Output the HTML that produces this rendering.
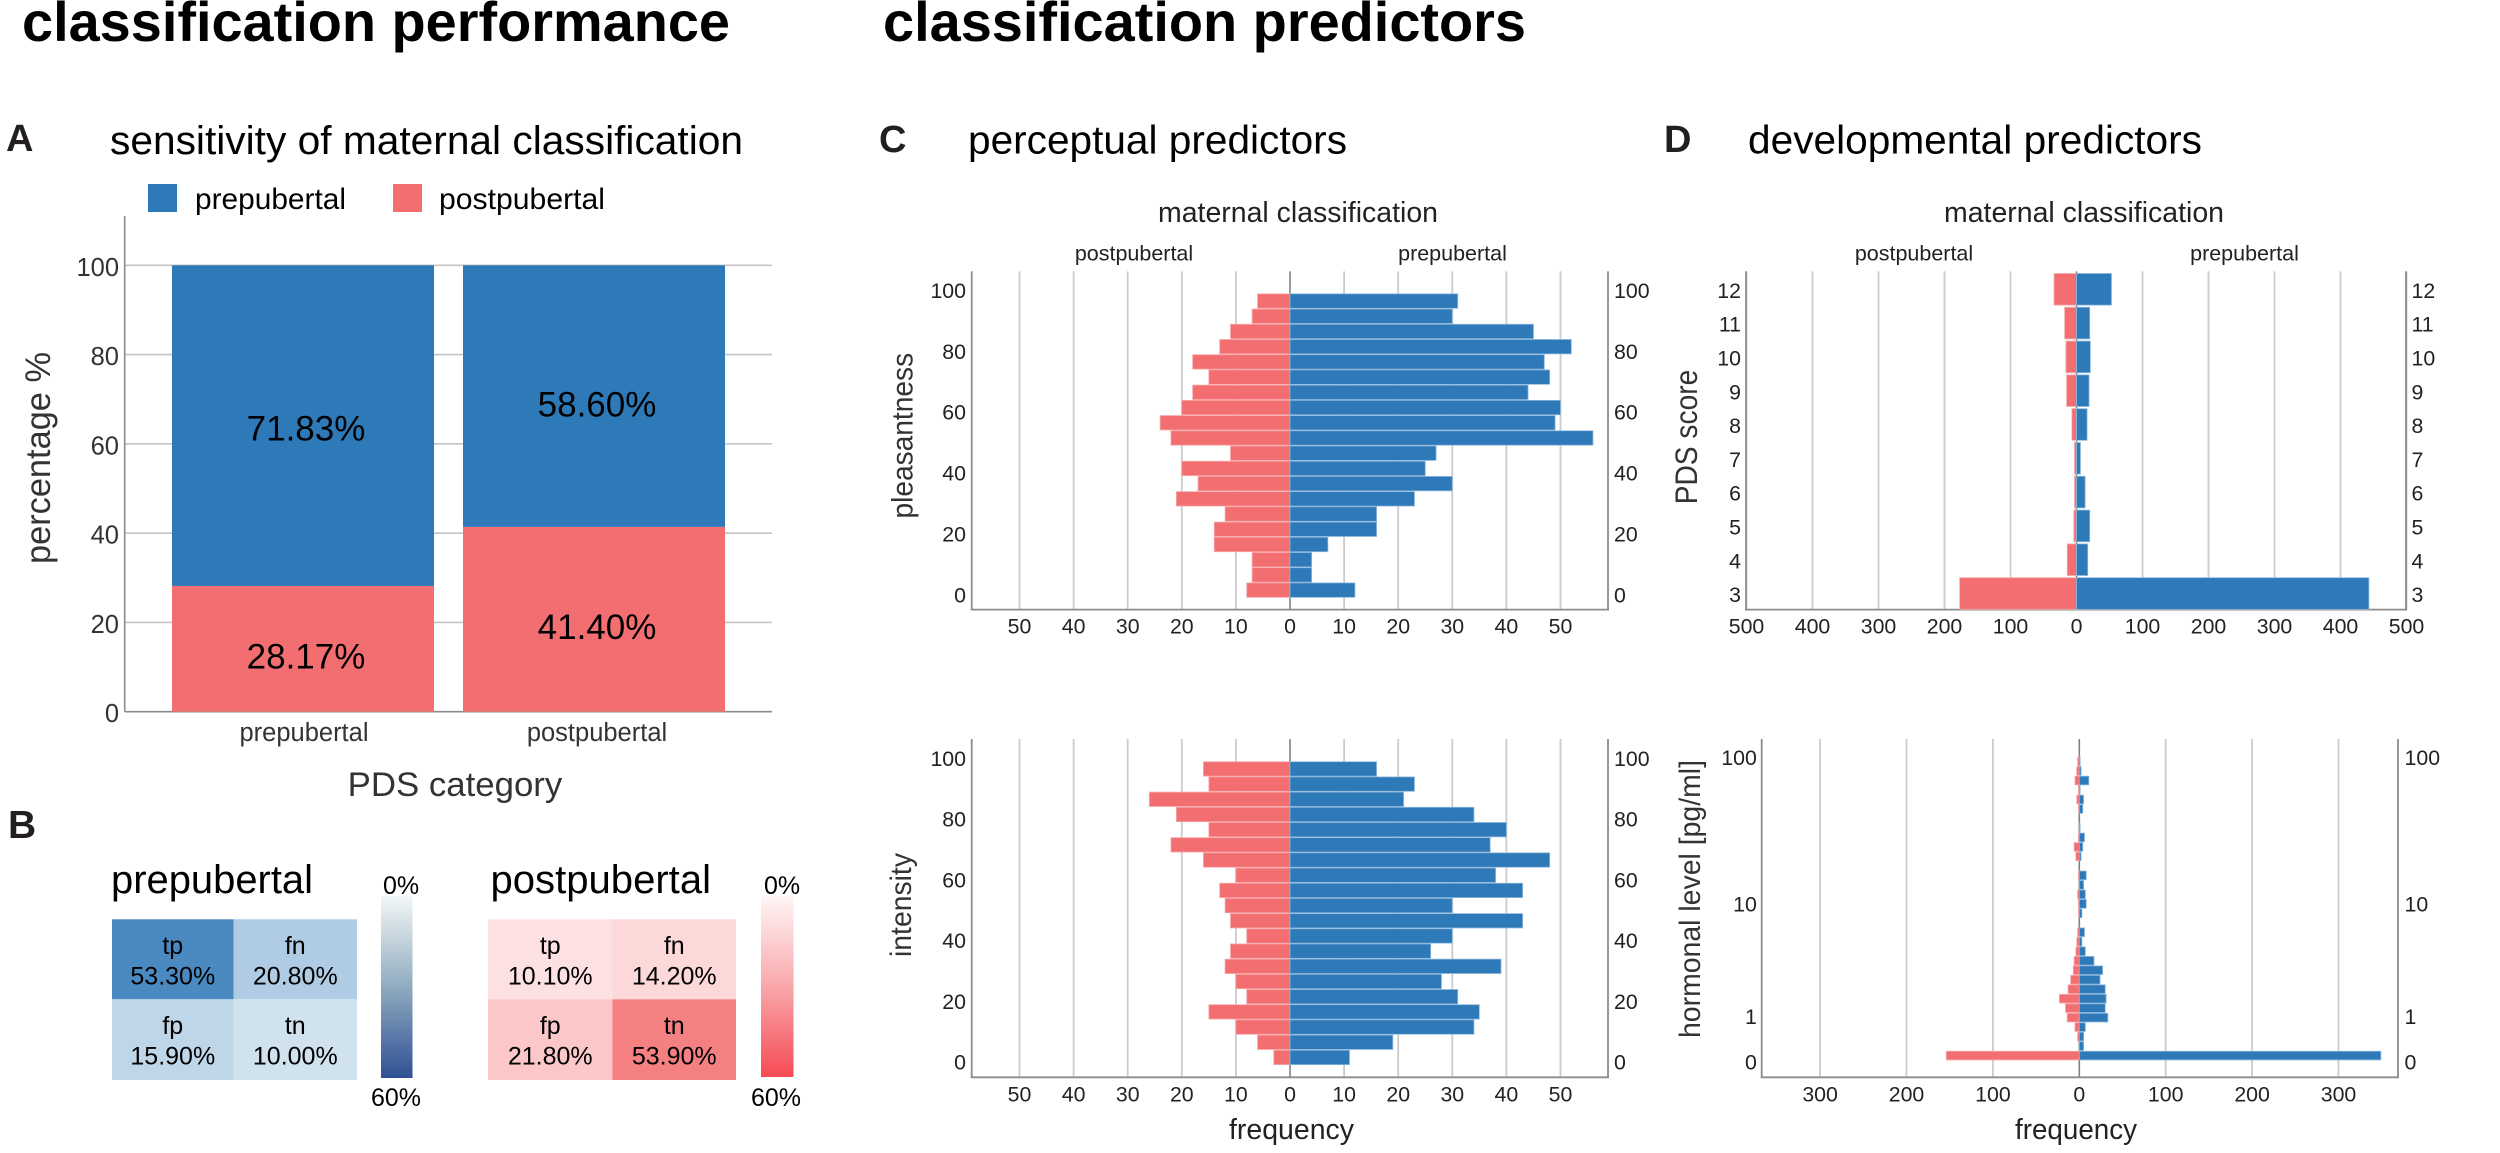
<!DOCTYPE html>
<html>
<head>
<meta charset="utf-8">
<title>classification performance and predictors</title>
<style>
html,body{margin:0;padding:0;background:#fff;}
svg{display:block;font-family:"Liberation Sans",Arial,sans-serif;}
</style>
</head>
<body>
<svg id="figure" xmlns="http://www.w3.org/2000/svg" width="2500" height="1153" viewBox="0 0 2500 1153">
<defs>
<linearGradient id="blue-scale" x1="0" y1="0" x2="0" y2="1"><stop offset="0" stop-color="#f2f7f8"/><stop offset="0.2" stop-color="#ccd9e0"/><stop offset="0.5" stop-color="#8fabc0"/><stop offset="0.8" stop-color="#5674a6"/><stop offset="1" stop-color="#2f5194"/></linearGradient>
<linearGradient id="red-scale" x1="0" y1="0" x2="0" y2="1"><stop offset="0" stop-color="#fff6f6"/><stop offset="0.5" stop-color="#f9a7ab"/><stop offset="1" stop-color="#f54b54"/></linearGradient>
</defs>
<rect width="2500" height="1153" fill="#fff"/>
<text x="22" y="41" font-size="56" font-weight="bold" textLength="708" lengthAdjust="spacingAndGlyphs">classification performance</text>
<text x="883" y="41" font-size="56" font-weight="bold" textLength="643" lengthAdjust="spacingAndGlyphs">classification predictors</text>
<text x="6" y="151" font-size="38" font-weight="bold" fill="#231f20">A</text>
<text x="8" y="838" font-size="39" font-weight="bold" fill="#231f20">B</text>
<text x="879" y="152" font-size="38" font-weight="bold" fill="#231f20">C</text>
<text x="1664" y="152" font-size="38" font-weight="bold" fill="#231f20">D</text>
<text x="110" y="154" font-size="40" textLength="633" lengthAdjust="spacingAndGlyphs">sensitivity of maternal classification</text>
<text x="968" y="153.6" font-size="40" textLength="379" lengthAdjust="spacingAndGlyphs">perceptual predictors</text>
<text x="1748" y="153.6" font-size="40" textLength="454" lengthAdjust="spacingAndGlyphs">developmental predictors</text>
<rect x="148" y="184" width="29" height="28" fill="#2e79b8"/>
<text x="195" y="209" font-size="29.5" textLength="151" lengthAdjust="spacingAndGlyphs">prepubertal</text>
<rect x="393" y="184" width="29" height="28" fill="#f36e70"/>
<text x="439" y="209" font-size="29.5" textLength="166" lengthAdjust="spacingAndGlyphs">postpubertal</text>
<text x="455" y="796" font-size="34" fill="#333" text-anchor="middle" textLength="214.6" lengthAdjust="spacingAndGlyphs">PDS category</text>
<text x="50" y="458" font-size="35" fill="#333" text-anchor="middle" transform="rotate(-90 50 458)" textLength="212" lengthAdjust="spacingAndGlyphs">percentage %</text>
<text x="111" y="893" font-size="39.5" textLength="202" lengthAdjust="spacingAndGlyphs">prepubertal</text>
<text x="490.5" y="893" font-size="39.5" textLength="220.5" lengthAdjust="spacingAndGlyphs">postpubertal</text>
<rect x="381" y="896" width="31.5" height="182" fill="url(#blue-scale)"/>
<rect x="761" y="896" width="32.5" height="181" fill="url(#red-scale)"/>
<text x="383" y="894" font-size="25">0%</text>
<text x="371" y="1106" font-size="25">60%</text>
<text x="764" y="894" font-size="25">0%</text>
<text x="751" y="1106" font-size="25">60%</text>
<text x="1298" y="222" font-size="28.5" text-anchor="middle" fill="#222" textLength="280" lengthAdjust="spacingAndGlyphs">maternal classification</text>
<text x="1134" y="260.7" font-size="21.5" text-anchor="middle" fill="#222">postpubertal</text>
<text x="1452.5" y="260.7" font-size="21.5" text-anchor="middle" fill="#222">prepubertal</text>
<text x="2084" y="222" font-size="28.5" text-anchor="middle" fill="#222" textLength="280" lengthAdjust="spacingAndGlyphs">maternal classification</text>
<text x="1914" y="260.7" font-size="21.5" text-anchor="middle" fill="#222">postpubertal</text>
<text x="2244.5" y="260.7" font-size="21.5" text-anchor="middle" fill="#222">prepubertal</text>
<text x="912.5" y="435.7" font-size="29.5" fill="#333" text-anchor="middle" transform="rotate(-90 912.5 435.7)" textLength="165.7" lengthAdjust="spacingAndGlyphs">pleasantness</text>
<text x="911" y="905" font-size="29.5" fill="#333" text-anchor="middle" transform="rotate(-90 911 905)" textLength="104" lengthAdjust="spacingAndGlyphs">intensity</text>
<text x="1697" y="437" font-size="31.5" fill="#333" text-anchor="middle" transform="rotate(-90 1697 437)" textLength="134.6" lengthAdjust="spacingAndGlyphs">PDS score</text>
<text x="1700" y="899" font-size="30" fill="#333" text-anchor="middle" transform="rotate(-90 1700 899)" textLength="278" lengthAdjust="spacingAndGlyphs">hormonal level [pg/ml]</text>
<text x="1291.5" y="1139" font-size="28.5" fill="#222" text-anchor="middle" textLength="125" lengthAdjust="spacingAndGlyphs">frequency</text>
<text x="2076" y="1139" font-size="28.5" fill="#222" text-anchor="middle" textLength="122" lengthAdjust="spacingAndGlyphs">frequency</text>
<g id="marks"></g>
</svg>
<script>
// Panel A
const stackCategories = ['prepubertal', 'postpubertal'];
const stackPrepubertal = [71.83, 58.60];
const stackPostpubertal = [28.17, 41.40];
const stackTicks = [0, 20, 40, 60, 80, 100];

// Panel B
const heatmapLabels = ['tp', 'fn', 'fp', 'tn'];
const heatmapPrepubertal = [53.30, 20.80, 15.90, 10.00];
const heatmapPostpubertal = [10.10, 14.20, 21.80, 53.90];

// Panel C (bins bottom to top)
const perceptualTicks = [0, 20, 40, 60, 80, 100];
const frequencyTicksC = [50, 40, 30, 20, 10, 0, 10, 20, 30, 40, 50];
const frequencySignsC = [-1, -1, -1, -1, -1, 1, 1, 1, 1, 1, 1];
const pleasantnessPost = [8, 7, 7, 14, 14, 12, 21, 17, 20, 11, 22, 24, 20, 18, 15, 18, 13, 11, 7, 6];
const pleasantnessPre = [12, 4, 4, 7, 16, 16, 23, 30, 25, 27, 56, 49, 50, 44, 48, 47, 52, 45, 30, 31];
const intensityPost = [3, 6, 10, 15, 8, 10, 12, 11, 8, 11, 12, 13, 10, 16, 22, 15, 21, 26, 15, 16];
const intensityPre = [11, 19, 34, 35, 31, 28, 39, 26, 30, 43, 30, 43, 38, 48, 37, 40, 34, 21, 23, 16];

// Panel D
const pdsScores = [3, 4, 5, 6, 7, 8, 9, 10, 11, 12];
const pdsPost = [177, 14, 4, 3, 3, 7, 15, 16, 18, 34];
const pdsPre = [443, 17, 20, 13, 6, 16, 19, 21, 20, 53];
const frequencyTicksPds = [500, 400, 300, 200, 100, 0, 100, 200, 300, 400, 500];
const frequencySignsPds = [-1, -1, -1, -1, -1, 1, 1, 1, 1, 1, 1];
const hormoneTicks = [0, 1, 10, 100];
const frequencyTicksHormone = [300, 200, 100, 0, 100, 200, 300];
const frequencySignsHormone = [-1, -1, -1, 1, 1, 1, 1];
const hormonePost = [154, 0, 2, 5, 14, 16, 23, 13, 10, 7, 6, 4, 3, 2, 0, 1, 1, 2, 0, 1, 0, 4, 6, 1, 0, 0, 1, 3, 1, 5, 3, 2];
const hormonePre = [349, 5, 5, 7, 33, 30, 31, 30, 24, 27, 17, 7, 3, 6, 0, 3, 8, 7, 5, 8, 0, 2, 4, 6, 1, 0, 4, 5, 1, 11, 2, 1];

const NS = 'http://www.w3.org/2000/svg';
const root = document.getElementById('marks');
const BLUE = '#2e79b8', RED = '#f36e70';

function shape(tag, props) {
  const el = document.createElementNS(NS, tag);
  for (const k in props) el.setAttribute(k, props[k]);
  root.appendChild(el);
  return el;
}
function label(str, props) {
  const el = shape('text', props);
  el.textContent = str;
  return el;
}
function mix(a, b, t) {
  return 'rgb(' + a.map((c, i) => Math.round(c + (b[i] - c) * t)).join(',') + ')';
}

/* ---------- Panel A: stacked bars ---------- */
const yA = v => 711.7 - 4.464 * v;
const xA = i => 172 + 291 * i;
const widthA = 262;

stackTicks.forEach(t => {
  const gl = shape('line', {x1: 124.7, x2: 772, y1: yA(t), y2: yA(t), stroke: t === 0 ? '#8c8c8c' : '#c4c4c4', 'stroke-width': 1.6});
  
  
  const tl = label(String(t), {x: 119, y: yA(t) + 10.5, 'font-size': 25.5, 'text-anchor': 'end', fill: '#333'});
  
  
});
const axisA = shape('line', {x1: 124.7, x2: 124.7, y1: 216, y2: 711.7, stroke: '#8c8c8c', 'stroke-width': 1.6});



stackCategories.forEach((cat, i) => {
  const post = stackPostpubertal[i], pre = stackPrepubertal[i];
  const rp = shape('rect', {x: xA(i), y: yA(post), width: widthA, height: yA(0) - yA(post), fill: RED});
  
  
  const rb = shape('rect', {x: xA(i), y: yA(post + pre), width: widthA, height: yA(post) - yA(post + pre), fill: BLUE});
  
  
  const lb = label(pre.toFixed(2) + '%', {x: xA(i) + widthA / 2 + 3, y: yA(post + pre / 2) + 15 + (post - 28.17) * 0.4, 'font-size': 35, 'text-anchor': 'middle', fill: '#000'});
  
  
  const lp = label(post.toFixed(2) + '%', {x: xA(i) + widthA / 2 + 3, y: yA(post / 2) + 19.5, 'font-size': 35, 'text-anchor': 'middle', fill: '#000'});
  
  
  const cl = label(cat, {x: xA(i) + widthA / 2 + (i ? 3 : 1), y: 741, 'font-size': 25.5, 'text-anchor': 'middle', fill: '#333'});
  
  
});

/* ---------- Panel B: heatmaps ---------- */
function heatmap(name, values, left, mid, right, low, high) {
  const tops = [919.3, 999.3], bottoms = [999.3, 1080];
  values.forEach((v, i) => {
    const col = i % 2, row = i < 2 ? 0 : 1;
    const x1 = col ? mid : left, x2 = col ? right : mid;
    const cell = shape('rect', {x: x1, y: tops[row], width: x2 - x1, height: bottoms[row] - tops[row], fill: mix(low, high, v / 60)});
    
    
    const cx = (x1 + x2) / 2;
    const t1 = label(heatmapLabels[i], {x: cx, y: tops[row] + 34.7, 'font-size': 25, 'text-anchor': 'middle', fill: '#000'});
    
    
    const t2 = label(v.toFixed(2) + '%', {x: cx, y: tops[row] + 65, 'font-size': 25, 'text-anchor': 'middle', fill: '#000'});
    
    
  });
}
heatmap('heatmap-prepubertal', heatmapPrepubertal, 112, 233.6, 357, [240, 247, 250], [54, 123, 186]);
heatmap('heatmap-postpubertal', heatmapPostpubertal, 488, 612.5, 736, [255, 247, 248], [243, 114, 117]);

/* ---------- Pyramid frame ---------- */
function frame(name, f, xTicks, xSigns) {
  xTicks.forEach((t, i) => {
    const x = f.x0 + xSigns[i] * t * f.unit;
    if (t !== 0) {
      const gl = shape('line', {x1: x, x2: x, y1: f.top, y2: f.bottom, stroke: '#cbcbcb', 'stroke-width': 1.8});
      
      
    }
    const tl = label(String(t), {x: x, y: f.bottom + 24, 'font-size': 21.3, 'text-anchor': 'middle', fill: '#222'});
    
    
  });
  const zl = shape('line', {x1: f.x0, x2: f.x0, y1: f.top, y2: f.bottom, stroke: '#808080', 'stroke-width': 1.6});
  
  
  const la = shape('line', {x1: f.left, x2: f.left, y1: f.top, y2: f.bottom, stroke: '#8c8c8c', 'stroke-width': 1.8});
  
  
  const ra = shape('line', {x1: f.right, x2: f.right, y1: f.top, y2: f.bottom, stroke: '#8c8c8c', 'stroke-width': 1.8});
  
  
  const ba = shape('line', {x1: f.left - 1, x2: f.right + 1, y1: f.bottom, y2: f.bottom, stroke: '#8c8c8c', 'stroke-width': 1.8});
  
  
}
function yTickLabels(name, f, ticks, yFn) {
  ticks.forEach(t => {
    const l = label(String(t), {x: f.labelLeft, y: yFn(t) + 7.6, 'font-size': 21.3, 'text-anchor': 'end', fill: '#222'});
    
    
    const r = label(String(t), {x: f.labelRight, y: yFn(t) + 7.6, 'font-size': 21.3, 'text-anchor': 'start', fill: '#222'});
    
    
  });
}
function bar(name, f, value, side, yTop, yBottom) {
  if (!value) return;
  const w = value * f.unit;
  const red = side < 0;
  const el = shape('rect', {
    x: red ? f.x0 - w : f.x0, y: yTop + 0.4, width: w, height: yBottom - yTop - 0.8,
    fill: red ? RED : BLUE, stroke: red ? '#f8a9ab' : '#8db8dc', 'stroke-width': 0.8
  });
  
  
}

/* ---------- Panel C ---------- */
const fPleasant = {x0: 1290, unit: 5.41, left: 971.7, right: 1608, top: 271.4, bottom: 609.6, labelLeft: 966, labelRight: 1614};
const fIntensity = {x0: 1290, unit: 5.41, left: 971.7, right: 1608, top: 739, bottom: 1077.3, labelLeft: 966, labelRight: 1614};
const yPleasant = v => 594.7 - 3.043 * v;
const yIntensity = v => 1062 - 3.037 * v;
const binWidth = 5, binStart = -1;

frame('pleasantness', fPleasant, frequencyTicksC, frequencySignsC);
yTickLabels('pleasantness', fPleasant, perceptualTicks, yPleasant);
pleasantnessPost.forEach((v, i) => {
  const lo = binStart + i * binWidth;
  bar('pleasantness-bar-postpubertal', fPleasant, v, -1, yPleasant(lo + binWidth), yPleasant(lo));
  bar('pleasantness-bar-prepubertal', fPleasant, pleasantnessPre[i], 1, yPleasant(lo + binWidth), yPleasant(lo));
});

frame('intensity', fIntensity, frequencyTicksC, frequencySignsC);
yTickLabels('intensity', fIntensity, perceptualTicks, yIntensity);
intensityPost.forEach((v, i) => {
  const lo = binStart + i * binWidth;
  bar('intensity-bar-postpubertal', fIntensity, v, -1, yIntensity(lo + binWidth), yIntensity(lo));
  bar('intensity-bar-prepubertal', fIntensity, intensityPre[i], 1, yIntensity(lo + binWidth), yIntensity(lo));
});

/* ---------- Panel D: PDS ---------- */
const fPds = {x0: 2076.5, unit: 0.66, left: 1746, right: 2406, top: 271.4, bottom: 609.6, labelLeft: 1741, labelRight: 2411.5};
const yPds = s => 593.5 - 33.8 * (s - 3);
frame('pds', fPds, frequencyTicksPds, frequencySignsPds);
yTickLabels('pds', fPds, pdsScores, s => yPds(s) + 1);
pdsScores.forEach((s, i) => {
  bar('pds-bar-postpubertal-' + s, fPds, pdsPost[i], -1, yPds(s) - 16.2, yPds(s) + 16.2);
  bar('pds-bar-prepubertal-' + s, fPds, pdsPre[i], 1, yPds(s) - 16.2, yPds(s) + 16.2);
});

/* ---------- Panel D: hormones (log10(v + 1) axis) ---------- */
const fHormone = {x0: 2079.3, unit: 0.864, left: 1761.7, right: 2398, top: 739, bottom: 1077.3, labelLeft: 1756.8, labelRight: 2404.5};
const yLog = t => 1062 - 152 * t;
const yHormone = v => yLog(Math.log10(v + 1));
const logBinStart = 0.011, logBinWidth = 0.0624;
frame('hormone', fHormone, frequencyTicksHormone, frequencySignsHormone);
yTickLabels('hormone', fHormone, hormoneTicks, yHormone);
hormonePost.forEach((v, i) => {
  const lo = logBinStart + i * logBinWidth;
  bar('hormone-bar-postpubertal', fHormone, v, -1, yLog(lo + logBinWidth), yLog(lo));
  bar('hormone-bar-prepubertal', fHormone, hormonePre[i], 1, yLog(lo + logBinWidth), yLog(lo));
});
</script>
</body>
</html>
